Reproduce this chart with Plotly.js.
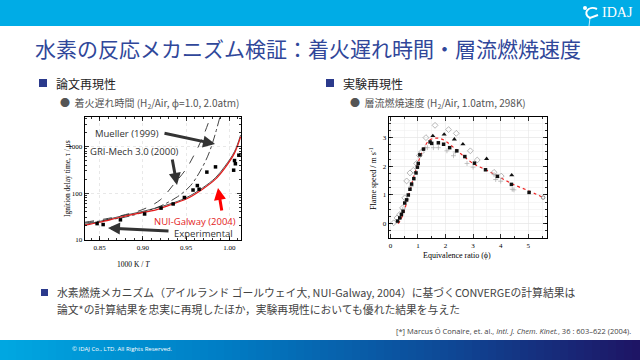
<!DOCTYPE html>
<html>
<head>
<meta charset="utf-8">
<script src="https://cdn.plot.ly/plotly-3.0.1.min.js"></script>
<style>html,body{margin:0;padding:0;background:#fff;}#chart{width:640px;height:360px;}</style>
</head>
<body>
<div id="chart"></div>
<script>
// ---------- Left chart: ignition delay (1000 K / T vs tau, us) ----------
const igExpX = [0.847, 0.854, 0.874, 0.902, 0.921, 0.935, 0.948, 0.958, 0.963, 0.965, 0.974, 0.984, 1.005, 1.006, 1.007, 1.011];
const igExpY = [22.4, 21.4, 27, 36, 48, 59, 81, 117, 146, 122, 283, 366, 311, 500, 427, 650];

const nuiX = [0.833, 0.85, 0.875, 0.90, 0.913, 0.93, 0.95, 0.969, 0.984, 0.995, 1.006, 1.013];
const nuiY = [20.7, 24, 31, 39, 43, 55, 75, 122, 200, 350, 720, 1600];

const convX = [0.833, 0.85, 0.875, 0.90, 0.93, 0.95, 0.969, 0.984, 0.995, 1.006, 1.013];
const convY = [21.5, 25, 32.5, 41, 58, 80, 130, 215, 380, 780, 1750];

const griX = [0.833, 0.86, 0.88, 0.90, 0.92, 0.935, 0.95, 0.96, 0.97, 0.978];
const griY = [24, 29, 35, 45, 72, 150, 330, 700, 1700, 4200];

const muelX = [0.833, 0.86, 0.88, 0.90, 0.92, 0.94, 0.955, 0.965, 0.975, 0.982, 0.989];
const muelY = [23, 27, 31, 39, 53, 84, 145, 270, 620, 1450, 4200];

// ---------- Right chart: laminar flame speed vs equivalence ratio ----------
const phiModel = [0.28, 0.35, 0.45, 0.55, 0.65, 0.75, 0.85, 0.95, 1.05, 1.15, 1.25, 1.4, 1.6, 1.8, 2.0, 2.3, 2.6, 3.0, 3.5, 4.0, 4.5, 5.0, 5.5];
const sModel   = [0.0, 0.1, 0.3, 0.6, 0.95, 1.3, 1.65, 1.95, 2.25, 2.5, 2.7, 2.9, 2.98, 2.97, 2.88, 2.65, 2.4, 2.1, 1.86, 1.6, 1.35, 1.15, 0.93];

const phiSq = [0.26, 0.34, 0.40, 0.46, 0.52, 0.59, 0.65, 0.71, 0.77, 0.85, 0.93, 0.98, 1.01, 1.07, 1.2, 1.44, 1.5, 1.74, 1.93, 2.15, 2.41, 2.7, 3.05, 3.45, 3.88, 4.39, 5.03];
const sSq   = [0.09, 0.2, 0.32, 0.43, 0.72, 0.83, 1.0, 1.2, 1.38, 1.57, 1.77, 1.97, 2.1, 2.4, 2.6, 2.85, 2.8, 2.82, 2.77, 2.65, 2.54, 2.34, 2.11, 1.88, 1.65, 1.37, 1.09];

const phiDia = [0.12, 0.24, 0.34, 0.44, 0.52, 0.59, 0.71, 0.83, 0.95, 1.05, 1.13, 1.29, 1.62, 2.11, 2.39, 2.9, 3.15, 3.76, 4.02];
const sDia   = [0.03, 0.2, 0.32, 0.55, 0.9, 1.49, 1.77, 1.86, 2.1, 2.38, 2.5, 3.0, 3.43, 3.28, 3.15, 2.54, 2.22, 1.79, 1.66];

const phiTri = [1.54, 1.95, 2.32, 2.63, 3.49, 4.4];
const sTri   = [3.06, 3.11, 2.94, 2.77, 2.26, 1.69];

const phiPlus = [0.45, 0.6, 0.75, 1.26, 1.34, 1.56, 1.74, 2.05, 2.29, 2.35, 2.78, 3.0, 3.76, 3.82, 4.0, 4.42, 4.48];
const sPlus   = [0.5, 0.85, 1.3, 2.65, 2.65, 2.65, 2.65, 2.54, 2.37, 2.5, 2.1, 1.97, 1.71, 1.54, 1.48, 1.2, 1.18];

const phiCirc = [5.54];
const sCirc   = [0.91];

// ---------- helpers (paper coordinates from pixel positions) ----------
const W = 640, H = 360;
const px = x => x / W;
const py = y => 1 - y / H;

const serif = 'Liberation Serif, Times New Roman, serif';
const jp = 'Noto Sans CJK JP, Noto Sans, sans-serif';
const sans = 'Open Sans, Noto Sans, sans-serif';

const traces = [
  {x: griX, y: griY, xaxis: 'x', yaxis: 'y', mode: 'lines', line: {color: '#444', width: 1, dash: 'dash', shape: 'spline'}},
  {x: muelX, y: muelY, xaxis: 'x', yaxis: 'y', mode: 'lines', line: {color: '#444', width: 1, dash: 'dashdot', shape: 'spline'}},
  {x: convX, y: convY, xaxis: 'x', yaxis: 'y', mode: 'lines', line: {color: '#222', width: 0.8, shape: 'spline'}},
  {x: nuiX, y: nuiY, xaxis: 'x', yaxis: 'y', mode: 'lines', line: {color: '#e31b1b', width: 1.2, shape: 'spline'}},
  {x: igExpX, y: igExpY, xaxis: 'x', yaxis: 'y', mode: 'markers', marker: {symbol: 'square', size: 3.5, color: '#000'}},

  {x: phiModel, y: sModel, xaxis: 'x2', yaxis: 'y2', mode: 'lines', line: {color: '#ee2222', width: 1.2, dash: 'dot', shape: 'spline'}},
  {x: phiDia, y: sDia, xaxis: 'x2', yaxis: 'y2', mode: 'markers', marker: {symbol: 'diamond-open', size: 4.5, color: '#999', line: {width: 0.7}}},
  {x: phiPlus, y: sPlus, xaxis: 'x2', yaxis: 'y2', mode: 'markers', marker: {symbol: 'cross-thin-open', size: 3.5, color: '#aaa', line: {width: 0.7, color: '#aaa'}}},
  {x: phiSq, y: sSq, xaxis: 'x2', yaxis: 'y2', mode: 'markers', marker: {symbol: 'square', size: 3.5, color: '#111'}},
  {x: phiTri, y: sTri, xaxis: 'x2', yaxis: 'y2', mode: 'markers', marker: {symbol: 'triangle-up', size: 4.5, color: '#111'}},
  {x: phiCirc, y: sCirc, xaxis: 'x2', yaxis: 'y2', mode: 'markers', marker: {symbol: 'circle-open', size: 3.5, color: '#888'}}
];

const axBase = {
  ticks: 'inside', ticklen: 4, tickwidth: 0.8, tickcolor: '#000',
  mirror: 'allticks', showline: true, linecolor: '#000', linewidth: 1.4,
  zeroline: false, tickfont: {family: serif, size: 7, color: '#000'}
};

const shapes = [
  {type: 'rect', xref: 'paper', yref: 'paper', x0: 0, x1: 1, y0: py(26), y1: 1, fillcolor: '#00ace6', line: {width: 0}, layer: 'below'},
  {type: 'rect', xref: 'paper', yref: 'paper', x0: px(39), x1: px(47), y0: py(87), y1: py(79), fillcolor: '#2b3a8c', line: {width: 0}},
  {type: 'rect', xref: 'paper', yref: 'paper', x0: px(326), x1: px(334), y0: py(87), y1: py(79), fillcolor: '#2b3a8c', line: {width: 0}},
  {type: 'rect', xref: 'paper', yref: 'paper', x0: px(41), x1: px(48), y0: py(296), y1: py(289), fillcolor: '#2b3a8c', line: {width: 0}},
  // logo swoosh
  {type: 'path', xref: 'paper', yref: 'paper', path: `M ${px(597)} ${py(9)} C ${px(588)} ${py(5)}, ${px(582)} ${py(14)}, ${px(590)} ${py(18)} L ${px(598)} ${py(15)}`, line: {color: '#fff', width: 2}},
  {type: 'circle', xref: 'paper', yref: 'paper', x0: px(583), x1: px(587), y0: py(10), y1: py(6), fillcolor: '#fff', line: {width: 0}},
  {type: 'line', xref: 'paper', yref: 'paper', x0: px(590), x1: px(589), y0: py(18), y1: py(26), line: {color: '#fff', width: 0.8}}
];
// footer gradient strips
const stops = [[0, [0, 168, 226]], [0.35, [0, 125, 196]], [0.7, [14, 72, 150]], [1, [30, 20, 100]]];
function gradColor(t) {
  for (let i = 0; i < stops.length - 1; i++) {
    const [t0, c0] = stops[i], [t1, c1] = stops[i + 1];
    if (t <= t1) {
      const f = (t - t0) / (t1 - t0);
      return 'rgb(' + c0.map((v, k) => Math.round(v + (c1[k] - v) * f)).join(',') + ')';
    }
  }
  return 'rgb(30,20,100)';
}
const N = 80;
for (let i = 0; i < N; i++) {
  shapes.push({type: 'rect', xref: 'paper', yref: 'paper', x0: i / N, x1: (i + 1) / N + 0.002, y0: 0, y1: py(340),
    fillcolor: gradColor((i + 0.5) / N), line: {width: 0}, layer: 'below'});
}

function txt(x, y, text, opts) {
  return Object.assign({xref: 'paper', yref: 'paper', x: px(x), y: py(y), text: text, showarrow: false,
    xanchor: 'left', yanchor: 'middle', font: {family: jp, size: 10, color: '#444'}}, opts || {});
}
function arrow(x0, y0, x1, y1, color) {
  return {xref: 'paper', yref: 'paper', x: px(x1), y: py(y1), ax: x0 - x1, ay: y0 - y1, text: '',
    showarrow: true, arrowhead: 2, arrowsize: 0.8, arrowwidth: 3, arrowcolor: color};
}

const annotations = [
  txt(600, 13, 'IDAJ', {font: {family: serif, size: 14, color: '#fff'}}),
  txt(33, 48, '水素の反応メカニズム検証：着火遅れ時間・層流燃焼速度', {font: {family: jp, size: 21, color: '#30479a'}}),
  txt(54, 83, '論文再現性', {font: {family: jp, size: 12, color: '#222'}}),
  txt(58, 103, '●  着火遅れ時間 (H<sub>2</sub>/Air, ϕ=1.0, 2.0atm)', {font: {family: jp, size: 10, color: '#555'}}),
  txt(341, 83, '実験再現性', {font: {family: jp, size: 12, color: '#222'}}),
  txt(348, 103, '●  層流燃焼速度 (H<sub>2</sub>/Air, 1.0atm, 298K)', {font: {family: jp, size: 10, color: '#555'}}),
  txt(55, 292, '水素燃焼メカニズム（アイルランド ゴールウェイ大, NUI-Galway, 2004）に基づくCONVERGEの計算結果は', {font: {family: jp, size: 10.8, color: '#444'}}),
  txt(55, 309, '論文*の計算結果を忠実に再現したほか，実験再現性においても優れた結果を与えた', {font: {family: jp, size: 10.8, color: '#444'}}),
  txt(633, 331, '[*] Marcus Ó Conaire, et. al., <i>Intl. J. Chem. Kinet.</i>, 36 : 603–622 (2004).', {xanchor: 'right', font: {family: sans, size: 7.5, color: '#444'}}),
  txt(70, 349, '© IDAJ Co., LTD. All Rights Reserved.', {font: {family: sans, size: 6, color: '#fff'}}),

  // axis titles
  txt(67, 179, 'Ignition delay time, τ / μs', {xanchor: 'center', textangle: -90, font: {family: serif, size: 7.5, color: '#000'}}),
  txt(133, 264, '1000 K / <i>T</i>', {xanchor: 'center', font: {family: serif, size: 7.5, color: '#000'}}),
  txt(373, 179, 'Flame speed / m s<sup>-1</sup>', {xanchor: 'center', textangle: -90, font: {family: serif, size: 8, color: '#000'}}),
  txt(457, 255, 'Equivalence ratio (ϕ)', {xanchor: 'center', font: {family: serif, size: 8, color: '#000'}}),

  // in-chart labels
  txt(93, 133, 'Mueller (1999)', {font: {family: sans, size: 9.5, color: '#333'}}),
  txt(88, 151, 'GRI-Mech 3.0 (2000)', {font: {family: sans, size: 9.5, color: '#333'}}),
  txt(152, 221, 'NUI-Galway (2004)', {font: {family: sans, size: 9.5, color: '#e31b1b'}}),
  txt(172, 233, 'Experimental', {font: {family: sans, size: 9.5, color: '#333'}}),
  arrow(163, 133, 215, 144, '#333'),
  arrow(172, 158, 177, 185, '#333'),
  arrow(222, 212, 218, 188, '#ff0000'),
  arrow(170, 231, 108, 228, '#333')
];

const layout = {
  width: 640, height: 360,
  margin: {l: 0, r: 0, t: 0, b: 0},
  paper_bgcolor: '#fff', plot_bgcolor: '#fff',
  showlegend: false,
  xaxis: Object.assign({}, axBase, {
    domain: [px(85), px(241)], anchor: 'y', range: [0.833, 1.0135],
    tickvals: [0.85, 0.90, 0.95, 1.00], ticktext: ['0.85', '0.90', '0.95', '1.00'],
    showgrid: true, gridcolor: '#d8d8d8', griddash: 'dot', gridwidth: 0.6,
    minor: {ticks: 'inside', ticklen: 2, dtick: 0.01, tickcolor: '#000'}
  }),
  yaxis: Object.assign({}, axBase, {
    domain: [py(240), py(117)], anchor: 'x', type: 'log', range: [1, 3.63],
    tickvals: [10, 100, 1000], ticktext: ['10', '100', '1000'],
    showgrid: true, gridcolor: '#d8d8d8', griddash: 'dot', gridwidth: 0.6,
    minor: {ticks: 'inside', ticklen: 2, tickcolor: '#000',
      tickvals: [20, 30, 40, 50, 60, 70, 80, 90, 200, 300, 400, 500, 600, 700, 800, 900, 2000, 3000, 4000]}
  }),
  xaxis2: Object.assign({}, axBase, {
    domain: [px(389), px(547)], anchor: 'y2', range: [-0.05, 5.68],
    tick0: 0, dtick: 1,
    showgrid: true, gridcolor: '#e6e6e6', gridwidth: 0.6,
    minor: {ticks: 'inside', ticklen: 2, dtick: 0.5, tickcolor: '#000', showgrid: true, gridcolor: '#f0f0f0'}
  }),
  yaxis2: Object.assign({}, axBase, {
    domain: [py(238), py(117)], anchor: 'x2', range: [-0.5, 3.72],
    tickvals: [0, 1, 2, 3],
    showgrid: true, gridcolor: '#e6e6e6', gridwidth: 0.6,
    minor: {ticks: 'inside', ticklen: 2, dtick: 0.25, tickcolor: '#000', showgrid: true, gridcolor: '#f0f0f0'}
  }),
  shapes: shapes,
  annotations: annotations
};

Plotly.newPlot('chart', traces, layout, {staticPlot: true, displayModeBar: false});
</script>
</body>
</html>
